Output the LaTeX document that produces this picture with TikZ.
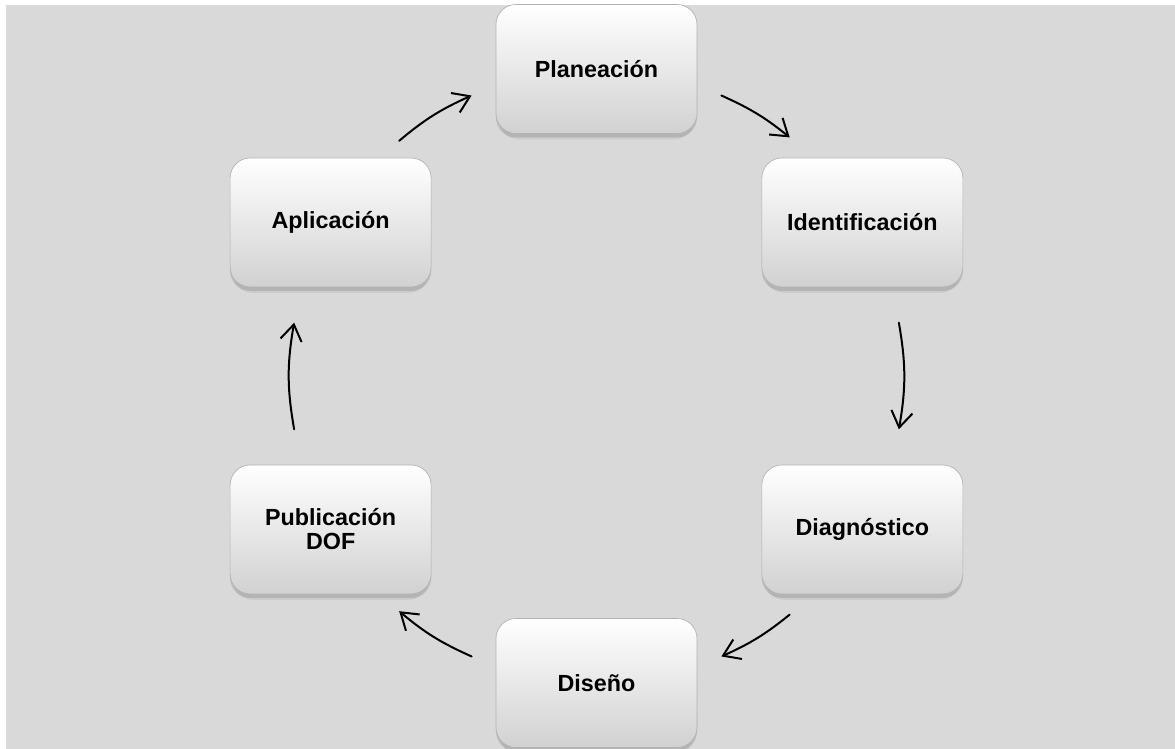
\documentclass[tikz,border=0pt]{standalone}
\usepackage{fontspec}
\setmainfont{Liberation Sans}
\usepackage{tikz}
\usepackage{xcolor}
\usetikzlibrary{calc,shadows,arrows.meta}

\definecolor{fondo}{HTML}{D9D9D9}

\begin{document}
\begin{tikzpicture}[x=0.75pt,y=0.75pt]
    \tikzstyle{etapa}=[draw=black!30,line width=0.5pt,rounded corners=15pt,
        minimum width=150.75pt,minimum height=96.75pt,inner sep=0pt,align=center,
        top color=white,middle color=white,bottom color=black!18,
        font=\bfseries\fontsize{17.5}{18}\selectfont,
        drop shadow={shadow xshift=0pt,shadow yshift=-3pt,opacity=0.3},
        drop shadow={shadow xshift=0pt,shadow yshift=-6pt,shadow scale=0.97,opacity=0.15}]
    \tikzstyle{flecha}=[line width=1.5pt,line cap=round,-{Straight Barb[length=12pt,width=16pt]}]

    \useasboundingbox (0,0) rectangle (1175,749);
    \fill[fondo] (6,0) rectangle (1175,744);

    \coordinate (c) at (596.5,373);
    \def\r{307}

    % Etapas del ciclo
    \node[etapa] (plan) at ($(c)+(90:\r)$) {Planeación};
    \node[etapa] (ident) at ($(c)+(30:\r)$) {Identificación};
    \node[etapa] (diag) at ($(c)+(-30:\r)$) {Diagnóstico};
    \node[etapa] (dis) at ($(c)+(-90:\r)$) {Diseño};
    \node[etapa] (pub) at ($(c)+(-150:\r)$) {Publicación\\DOF};
    \node[etapa] (apl) at ($(c)+(150:\r)$) {Aplicación};

    % Extremos de las flechas sobre el circulo
    \coordinate (a1) at ($(c)+(130:\r)$);
    \coordinate (a2) at ($(c)+(114:\r)$);
    \coordinate (b1) at ($(c)+(66:\r)$);
    \coordinate (b2) at ($(c)+(51:\r)$);
    \coordinate (d1) at ($(c)+(10:\r)$);
    \coordinate (d2) at ($(c)+(-10:\r)$);
    \coordinate (e1) at ($(c)+(-51:\r)$);
    \coordinate (e2) at ($(c)+(-66:\r)$);
    \coordinate (f1) at ($(c)+(-114:\r)$);
    \coordinate (f2) at ($(c)+(-130:\r)$);
    \coordinate (g1) at ($(c)+(190:\r)$);
    \coordinate (g2) at ($(c)+(170:\r)$);

    \draw[flecha] (a1) to[bend left=8] (a2);
    \draw[flecha] (b1) to[bend left=7.5] (b2);
    \draw[flecha] (d1) to[bend left=10] (d2);
    \draw[flecha] (e1) to[bend left=7.5] (e2);
    \draw[flecha] (f1) to[bend left=8] (f2);
    \draw[flecha] (g1) to[bend left=10] (g2);

\end{tikzpicture}
\end{document}
